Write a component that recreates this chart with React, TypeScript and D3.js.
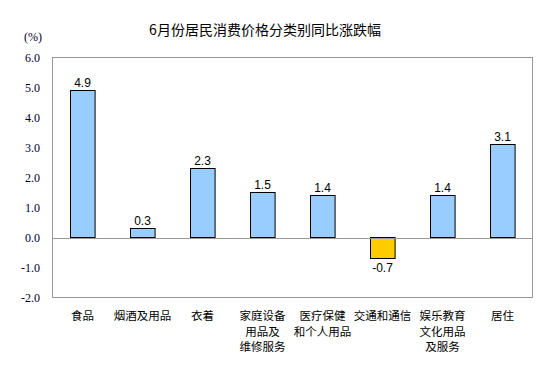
import React from "react";
import * as d3 from "d3";

const categories = [
  ["食品"],
  ["烟酒及用品"],
  ["衣着"],
  ["家庭设备", "用品及", "维修服务"],
  ["医疗保健", "和个人用品"],
  ["交通和通信"],
  ["娱乐教育", "文化用品", "及服务"],
  ["居住"],
];
const values = [4.9, 0.3, 2.3, 1.5, 1.4, -0.7, 1.4, 3.1];
const yTicks = [-2, -1, 0, 1, 2, 3, 4, 5, 6];
const title = "6月份居民消费价格分类别同比涨跌幅";
const unit = "(%)";

export default function App() {
  const W = 554, H = 377;
  const left = 52.5, right = 532.5, top = 57.5, bottom = 297.5;
  const y = d3.scaleLinear().domain([-2, 6]).range([bottom, top]);
  const x = d3.scaleBand<number>().domain(d3.range(categories.length)).range([left, right]).paddingInner(0.59).paddingOuter(0.295);
  const cjk = "'Noto Sans CJK SC', sans-serif";
  return (
    <svg width={W} height={H} style={{ position: "absolute", left: 0, top: 0, background: "#fff" }}>
      <text x={265} y={35} textAnchor="middle" fontFamily={cjk} fontSize={14} fill="#000">{title}</text>
      <text x={33} y={41} textAnchor="middle" fontFamily="'Liberation Serif', serif" fontSize={12} fill="#000033">{unit}</text>
      {yTicks.map((t) => (
        <text key={t} x={40} y={y(t) + 4} textAnchor="end" fontFamily="'Liberation Serif', serif" fontSize={12} fill="#000033">{t.toFixed(1)}</text>
      ))}
      <rect x={left} y={top} width={right - left} height={bottom - top} fill="none" stroke="#999" strokeWidth={1} />
      {values.map((v, i) => {
        const bx = x(i)!;
        const bw = x.bandwidth();
        const y0 = y(0), y1 = y(v);
        return (
          <g key={i}>
            <rect x={Math.round(bx) + 0.5} y={Math.min(y0, y1)} width={bw} height={Math.abs(y1 - y0)}
              fill={v >= 0 ? "#99CCFF" : "#FFCC00"} stroke="#000" strokeWidth={1} />
            <text x={bx + bw / 2} y={v >= 0 ? y1 - 4 : y1 + 13} textAnchor="middle" fontFamily="'Liberation Sans', sans-serif" fontSize={12} fill="#000">{v.toFixed(1)}</text>
          </g>
        );
      })}
      <line x1={left} x2={right} y1={Math.round(y(0)) + 0.5} y2={Math.round(y(0)) + 0.5} stroke="#999" strokeWidth={1} />
      {categories.map((lines, i) => (
        <text key={i} textAnchor="middle" fontFamily={cjk} fontSize={11.5} fill="#000">
          {lines.map((l, j) => (
            <tspan key={j} x={x(i)! + x.bandwidth() / 2} y={320 + j * 15.5}>{l}</tspan>
          ))}
        </text>
      ))}
    </svg>
  );
}
